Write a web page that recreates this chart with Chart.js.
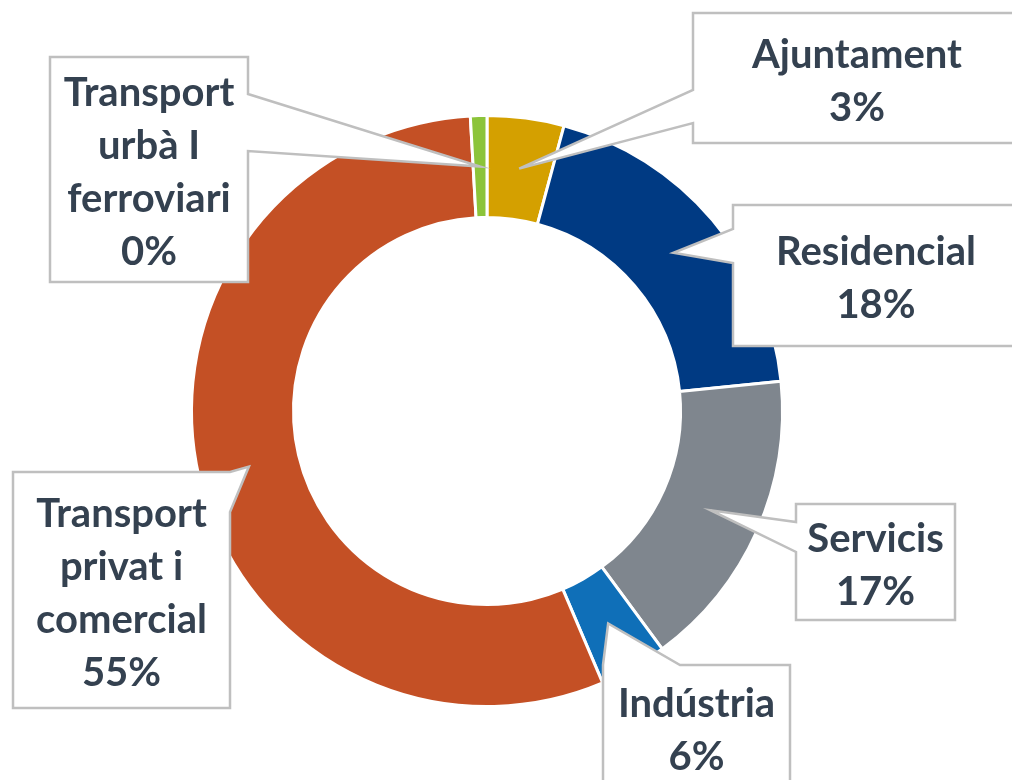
<!DOCTYPE html>
<html>
<head>
<meta charset="utf-8">
<script src="https://cdn.jsdelivr.net/npm/chart.js@4.4.1/dist/chart.umd.min.js"></script>
<style>
  body { margin: 0; background: #fff; }
</style>
</head>
<body>
<canvas id="chart" width="1012" height="780"></canvas>
<script>
const categories = ['Ajuntament', 'Residencial', 'Servicis', 'Indústria', 'Transport privat i comercial', 'Transport urbà I ferroviari'];
const shares = [4.2, 19.2, 16.5, 3.7, 55.5, 0.9];
const shareLabels = ['3%', '18%', '17%', '6%', '55%', '0%'];
const colors = ['#D4A000', '#003A83', '#7F868E', '#0F6FB8', '#C45025', '#8CC43A'];

// callout boxes [x1, y1, x2, y2], the side the pointer leaves from and where on that side
const callouts = [
  { box: [693, 13, 1021, 143], side: 'left', a: 90, b: 123 },
  { box: [733, 205, 1019, 346], side: 'left', a: 229, b: 263 },
  { box: [796, 504, 955, 620], side: 'left', a: 522, b: 552 },
  { box: [603, 665, 790, 789], side: 'top', a: 603, b: 680 },
  { box: [13, 472, 230, 708], side: 'right', a: 472, b: 512 },
  { box: [50, 57, 248, 282], side: 'right', a: 94, b: 151 }
];

function wrap(ctx, text, maxWidth) {
  const words = text.split(' ');
  const lines = [];
  let line = words[0];
  for (let i = 1; i < words.length; i++) {
    const test = line + ' ' + words[i];
    if (ctx.measureText(test).width > maxWidth) {
      lines.push(line);
      line = words[i];
    } else {
      line = test;
    }
  }
  lines.push(line);
  return lines;
}

const calloutPlugin = {
  id: 'callouts',
  afterDatasetsDraw(chart) {
    const ctx = chart.ctx;
    const arcs = chart.getDatasetMeta(0).data;
    ctx.save();
    ctx.font = 'bold 40px Lato';
    arcs.forEach((arc, i) => {
      const c = callouts[i];
      const tip = arc.tooltipPosition();
      const [x1, y1, x2, y2] = c.box;
      let pts;
      if (c.side === 'left') {
        pts = [[x1, y1], [x2, y1], [x2, y2], [x1, y2], [x1, c.b], [tip.x, tip.y], [x1, c.a]];
      } else if (c.side === 'right') {
        pts = [[x1, y1], [x2, y1], [x2, c.a], [tip.x, tip.y], [x2, c.b], [x2, y2], [x1, y2]];
      } else {
        pts = [[x1, y1], [c.a, y1], [tip.x, tip.y], [c.b, y1], [x2, y1], [x2, y2], [x1, y2]];
      }
      ctx.beginPath();
      pts.forEach((p, k) => k ? ctx.lineTo(p[0], p[1]) : ctx.moveTo(p[0], p[1]));
      ctx.closePath();
      ctx.fillStyle = '#fff';
      ctx.fill();
      ctx.strokeStyle = '#BFBFBF';
      ctx.lineWidth = 2.5;
      ctx.lineJoin = 'miter';
      ctx.stroke();

      const lines = wrap(ctx, categories[i], x2 - x1 - 16).concat(shareLabels[i]);
      const cx = (x1 + x2) / 2;
      const cy = (y1 + y2) / 2 + 2;
      const lh = 53;
      ctx.fillStyle = '#344150';
      ctx.textAlign = 'center';
      ctx.textBaseline = 'alphabetic';
      lines.forEach((t, k) => {
        const mid = cy - (lines.length - 1) / 2 * lh + k * lh;
        ctx.fillText(t, cx, mid + 14);
      });
    });
    ctx.restore();
  }
};

new Chart(document.getElementById('chart'), {
  type: 'doughnut',
  data: {
    labels: categories,
    datasets: [{
      data: shares,
      backgroundColor: colors,
      borderColor: '#fff',
      borderWidth: 3,
      hoverOffset: 0
    }]
  },
  options: {
    responsive: false,
    animation: false,
    cutout: '65.5%',
    events: [],
    layout: {
      padding: { left: 190, top: 114, right: 228, bottom: 72 }
    },
    plugins: {
      legend: { display: false },
      tooltip: { enabled: false }
    }
  },
  plugins: [calloutPlugin]
});
</script>
</body>
</html>
